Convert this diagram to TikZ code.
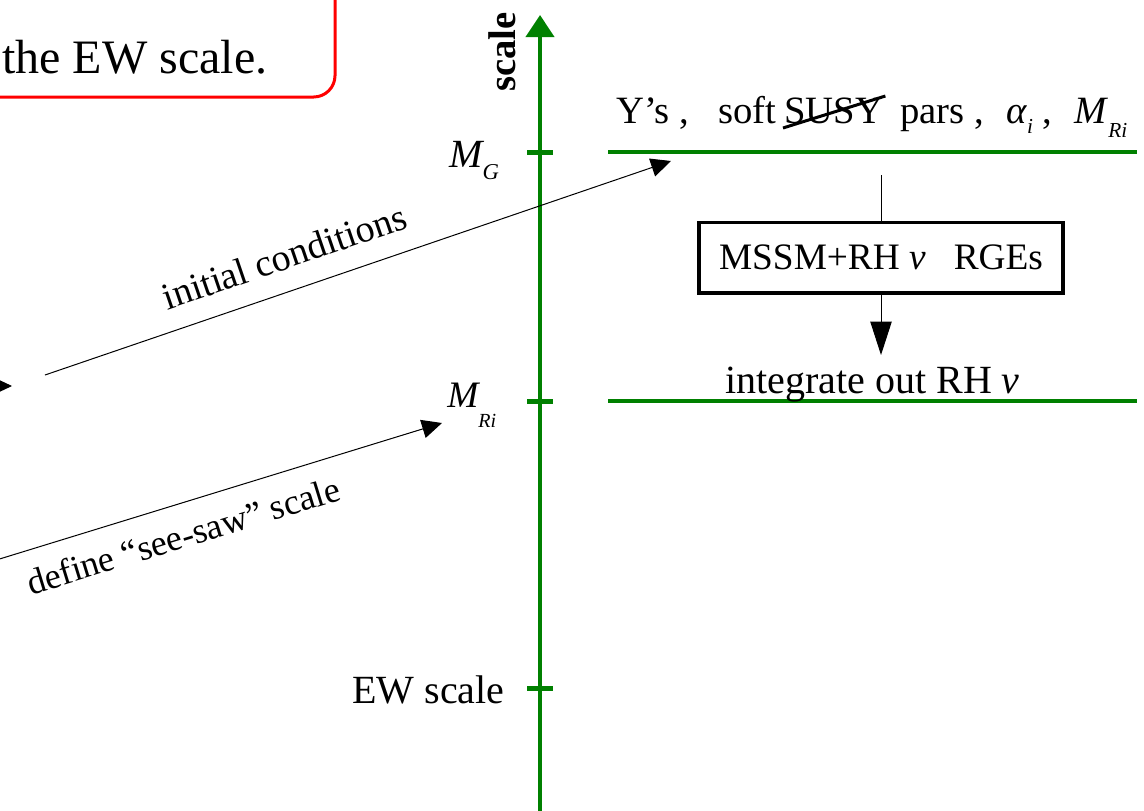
\documentclass[tikz,border=0pt]{standalone}
\usepackage{fontspec}
\setmainfont{Liberation Serif}
\usetikzlibrary{arrows.meta}
\definecolor{axgreen}{RGB}{0,128,0}
\definecolor{boxred}{RGB}{255,0,0}
\newcommand{\fsz}[1]{\fontsize{#1}{#1}\selectfont}
\newcommand{\lsub}[3]{\raisebox{-#1}{\fontsize{#2}{#2}\selectfont\itshape #3}}
\begin{document}
\begin{tikzpicture}[x=0.75pt,y=-0.75pt,
  axisline/.style={draw=axgreen, line width=3pt},
  levelline/.style={draw=axgreen, line width=3pt},
  tickline/.style={draw=axgreen, line width=3.75pt},
  txt/.style={inner sep=0pt, anchor=base west, font=\fsz{30pt}},
  toptxt/.style={inner sep=0pt, anchor=base west, font=\fsz{29pt}},
  conn/.style={draw, line width=0.75pt, -{Triangle[length=15pt,width=14pt]}},
  rgebox/.style={draw, line width=2.5pt, minimum width=273pt, minimum height=53pt, inner sep=0pt, font=\fsz{28pt}}
]
\clip (0,0) rectangle (1144,810);
% red box (partially off canvas)
\draw[draw=boxred, line width=2.25pt, rounded corners=16pt] (-80,-80) rectangle (335,97);
\node[inner sep=0pt, anchor=base west, font=\fsz{36pt}] (redtxt) at (2,73) {the EW scale.};
% axis
\coordinate (axbot) at (540,820);
\coordinate (axtop) at (540,15);
\draw[axisline, -{Triangle[length=16.5pt,width=21pt]}] (axbot) -- (axtop);
\node[rotate=90, anchor=base, inner sep=0pt, font=\fsz{29pt}\bfseries] (scl) at (515,52) {scale};
% ticks
\draw[tickline] (527,152) -- (553,152);
\draw[tickline] (527,401) -- (553,401);
\draw[tickline] (527,688) -- (553,688);
% tick labels
\node[txt, font=\fsz{30pt}\itshape] (mg) at (449,167) {M\lsub{9pt}{17pt}{G}};
\node[txt, font=\fsz{28pt}\itshape] (mri) at (447,407) {M\lsub{15pt}{15pt}{Ri}};
\node[txt] (ew) at (352,703) {EW scale};
% level lines
\draw[levelline] (608,152) -- (1137,152);
\draw[levelline] (608,401) -- (1137,401);
% top text
\node[toptxt] (t1) at (616,123) {Y’s ,};
\node[toptxt] (t2) at (718,123) {soft};
\node[toptxt] (t3) at (784,123) {SUSY};
\node[toptxt] (t4) at (900,123) {pars ,};
\node[toptxt] (t5) at (1006,123) {\textit{α}\lsub{8pt}{16pt}{i} ,};
\node[toptxt] (t6) at (1074,123) {\textit{M}\lsub{11pt}{16pt}{Ri}};
\draw[line width=2.25pt] ([shift={(-1,5)}]t3.base west) -- ([shift={(2,-27)}]t3.base east);
% RGE box and arrows
\node[rgebox] (rge) at (881,257.5) {MSSM+RH \textit{ν}\hspace{0.5em} RGEs};
\coordinate (vtop) at (881,175);
\coordinate (vend) at (881,355);
\draw[line width=0.75pt] (vtop) -- (rge.north);
\draw[line width=0.75pt, -{Triangle[length=25pt,width=16pt]}] (rge.south) -- (vend);
\node[txt] (intout) at (725,393) {integrate out RH \textit{ν}};
% initial conditions arrow
\coordinate (ic0) at (45,375);
\coordinate (ic1) at (671,161);
\draw[conn] (ic0) -- node[pos=0.40, sloped, anchor=south, inner sep=0pt, outer ysep=16pt, font=\fsz{28.5pt}] (iclbl) {initial conditions} (ic1);
% see-saw arrow
\coordinate (ds0) at (-20,565);
\coordinate (ds1) at (442,423);
\draw[conn] (ds0) -- node[pos=0.42, sloped, anchor=north, inner sep=0pt, outer ysep=14pt, font=\fsz{27pt}] (dslbl) {define “see-saw” scale} (ds1);
% left stub arrow
\coordinate (la0) at (-40,386);
\coordinate (la1) at (12,386);
\draw[conn] (la0) -- (la1);
\end{tikzpicture}
\end{document}
